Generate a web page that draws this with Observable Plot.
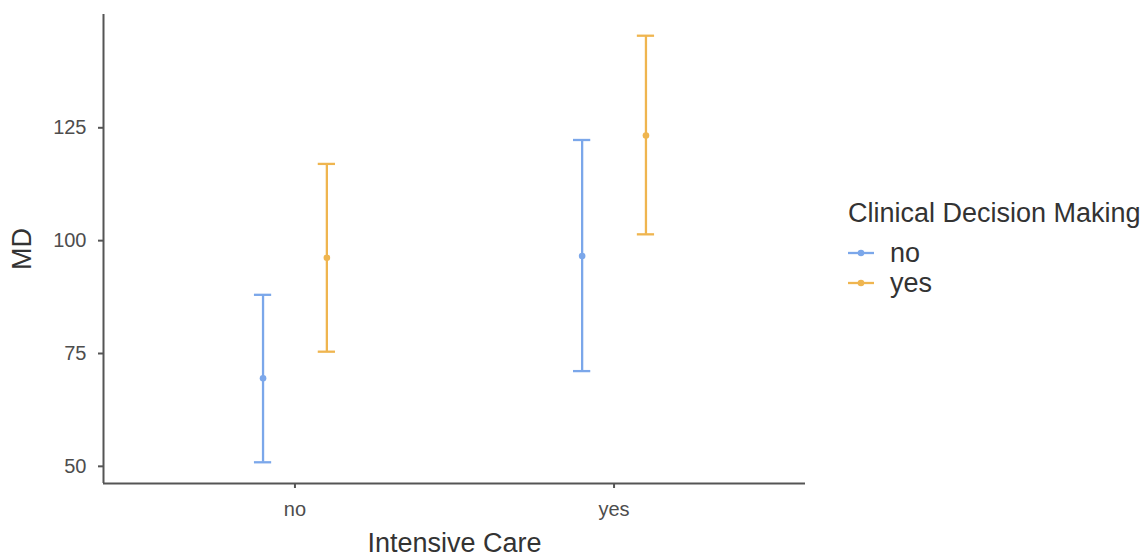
<!DOCTYPE html>
<html>
<head>
<meta charset="utf-8">
<script src="https://cdn.jsdelivr.net/npm/d3@7"></script>
<script src="https://cdn.jsdelivr.net/npm/@observablehq/plot@0.6"></script>
<style>
  body { margin: 0; background: #fff; font-family: "Liberation Sans", Arial, sans-serif; }
  #wrap { position: relative; width: 1143px; height: 558px; overflow: hidden; }
  #legend { position: absolute; left: 848px; top: 194px; color: #333; }
  #legend .title { font-size: 27px; line-height: 38px; white-space: nowrap; margin-bottom: 6px; }
  #legend .item { display: flex; align-items: center; font-size: 27px; line-height: 30px; }
  #legend svg { margin-right: 16px; }
</style>
</head>
<body>
<div id="wrap"><div id="chart"></div><div id="legend"></div></div>
<script>
const careLevels = ["no", "yes"];          // Intensive Care (x categories)
const decisionLevels = ["no", "yes"];      // Clinical Decision Making (groups)
const meanNo  = [69.5, 96.6];              // decision = no, per care level
const lowerNo = [50.9, 71.1];
const upperNo = [88.0, 122.3];
const meanYes  = [96.2, 123.3];            // decision = yes, per care level
const lowerYes = [75.4, 101.4];
const upperYes = [117.0, 145.4];
const yTicks = [50, 75, 100, 125];
const colors = ["#7ba7ea", "#efb54f"];

const rows = [];
careLevels.forEach((c, i) => {
  rows.push({care: c, group: "no",  mean: meanNo[i],  lo: lowerNo[i],  hi: upperNo[i]});
  rows.push({care: c, group: "yes", mean: meanYes[i], lo: lowerYes[i], hi: upperYes[i]});
});
const dodge = 0.1, capHalf = 0.027;
rows.forEach(r => {
  r.xpos = careLevels.indexOf(r.care) + 1 + (r.group === "no" ? -dodge : dodge);
});

const plot = Plot.plot({
  width: 830,
  height: 558,
  marginLeft: 103,
  marginRight: 25,
  marginTop: 14,
  marginBottom: 75,
  style: {fontFamily: "Liberation Sans, Arial, sans-serif", fontSize: "20px", color: "#4d4d4d", background: "#fff", overflow: "visible"},
  x: {domain: [0.4, 2.6], ticks: [1, 2], tickFormat: d => careLevels[d - 1], label: null},
  y: {domain: [46.2, 150.1], ticks: yTicks, label: null},
  color: {domain: decisionLevels, range: colors},
  marks: [
    Plot.ruleX(rows, {x: "xpos", y1: "lo", y2: "hi", stroke: "group", strokeWidth: 2.3}),
    Plot.ruleY(rows, {y: "hi", x1: d => d.xpos - capHalf, x2: d => d.xpos + capHalf, stroke: "group", strokeWidth: 2.3}),
    Plot.ruleY(rows, {y: "lo", x1: d => d.xpos - capHalf, x2: d => d.xpos + capHalf, stroke: "group", strokeWidth: 2.3}),
    Plot.dot(rows, {x: "xpos", y: "mean", fill: "group", r: 3.3}),
    Plot.axisX({ticks: [1, 2], tickFormat: d => careLevels[d - 1], tickSize: 5, tickPadding: 13, stroke: "#555", fill: "#4d4d4d", fontSize: 20, strokeWidth: 2,
      label: "Intensive Care", labelAnchor: "center", labelArrow: "none", labelOffset: 68}),
    Plot.axisY({ticks: yTicks, tickSize: 5, tickPadding: 12, stroke: "#555", fill: "#4d4d4d", fontSize: 20, strokeWidth: 2,
      label: "MD", labelAnchor: "center", labelArrow: "none", labelOffset: 92}),
    Plot.ruleX([0.4], {stroke: "#555", strokeWidth: 2}),
    Plot.ruleY([46.2], {stroke: "#555", strokeWidth: 2})
  ]
});
// enlarge axis titles
plot.querySelectorAll("g[aria-label='x-axis label'] text, g[aria-label='y-axis label'] text").forEach(t => {
  t.setAttribute("font-size", "27px");
  t.setAttribute("fill", "#333");
});
document.getElementById("chart").appendChild(plot);

// legend
const leg = document.getElementById("legend");
leg.innerHTML = `<div class="title">Clinical Decision Making</div>` +
  decisionLevels.map((g, i) => `<div class="item"><svg width="26" height="12"><line x1="0" x2="26" y1="6" y2="6" stroke="${colors[i]}" stroke-width="2.3"/><circle cx="13" cy="6" r="3.3" fill="${colors[i]}"/></svg>${g}</div>`).join("");
</script>
</body>
</html>
